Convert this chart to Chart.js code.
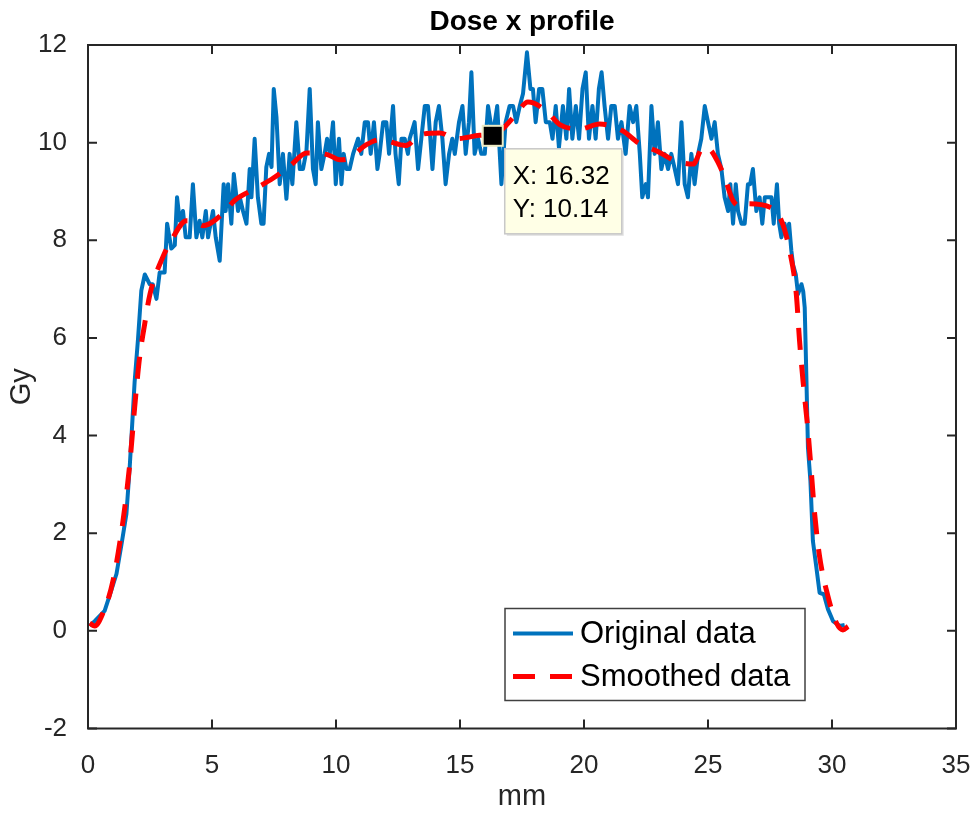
<!DOCTYPE html>
<html lang="en">
<head>
  <meta charset="UTF-8">
  <title>Dose x profile</title>
  <script src="https://cdn.jsdelivr.net/npm/chart.js"></script>
  <style>
    body { margin: 0; background: #fff; }
    #wrap { width: 974px; height: 814px; }
  </style>
</head>
<body>
  <div id="wrap"><canvas id="doseChart"></canvas></div>
  <script>
    // original measured profile (mm, Gy)
    const origX = [
      0.07, 0.27, 0.67, 0.92, 1.15, 1.36, 1.55, 1.68, 1.79, 1.88,
      2.02, 2.15, 2.29, 2.49, 2.61, 2.76, 2.89, 3.09, 3.19, 3.36,
      3.50, 3.59, 3.70, 3.83, 3.94, 4.10, 4.23, 4.37, 4.50, 4.61,
      4.75, 4.84, 5.04, 5.15, 5.31, 5.47, 5.55, 5.65, 5.78, 5.88,
      6.05, 6.12, 6.25, 6.39, 6.52, 6.59, 6.72, 6.85, 6.99, 7.08,
      7.19, 7.30, 7.40, 7.49, 7.60, 7.73, 7.86, 8.00, 8.13, 8.24,
      8.40, 8.54, 8.67, 8.81, 8.94, 9.07, 9.18, 9.27, 9.41, 9.54,
      9.64, 9.75, 9.88, 9.99, 10.12, 10.22, 10.31, 10.42, 10.55, 10.69,
      10.89, 11.02, 11.16, 11.29, 11.40, 11.53, 11.67, 11.76, 11.90, 12.03,
      12.14, 12.30, 12.40, 12.53, 12.64, 12.77, 12.90, 12.97, 13.17, 13.31,
      13.44, 13.58, 13.71, 13.89, 14.02, 14.15, 14.29, 14.42, 14.56, 14.69,
      14.79, 14.96, 15.10, 15.23, 15.36, 15.46, 15.59, 15.73, 15.86, 16.00,
      16.13, 16.32, 16.50, 16.67, 16.84, 17.00, 17.14, 17.27, 17.41, 17.54,
      17.70, 17.84, 17.94, 18.05, 18.19, 18.32, 18.46, 18.62, 18.73, 18.86,
      18.99, 19.15, 19.29, 19.40, 19.53, 19.67, 19.80, 19.94, 20.07, 20.20,
      20.34, 20.47, 20.60, 20.71, 20.83, 20.97, 21.10, 21.24, 21.37, 21.51,
      21.68, 21.84, 21.98, 22.11, 22.25, 22.35, 22.49, 22.58, 22.72, 22.85,
      22.98, 23.12, 23.25, 23.39, 23.52, 23.66, 23.79, 23.93, 24.06, 24.19,
      24.33, 24.46, 24.60, 24.73, 24.87, 25.00, 25.14, 25.27, 25.40, 25.54,
      25.67, 25.81, 25.90, 26.01, 26.12, 26.21, 26.35, 26.48, 26.61, 26.70,
      26.81, 26.95, 27.08, 27.19, 27.29, 27.42, 27.56, 27.65, 27.78, 27.87,
      27.96, 28.09, 28.17, 28.27, 28.36, 28.43, 28.54, 28.63, 28.77, 28.84,
      28.90, 28.97, 29.03, 29.13, 29.23, 29.37, 29.50, 29.67, 29.84, 30.04,
      30.31, 30.51
    ];
    const origY = [
      0.10, 0.20, 0.41, 0.80, 1.17, 1.80, 2.40, 3.34, 4.30, 5.10,
      6.00, 6.97, 7.30, 7.10, 7.10, 6.80, 7.34, 7.34, 8.34, 7.83,
      7.90, 8.88, 8.40, 8.60, 8.06, 8.06, 9.15, 8.06, 8.40, 8.06,
      8.60, 8.06, 8.60, 8.06, 7.58, 9.15, 8.60, 9.15, 8.34, 9.36,
      8.60, 8.88, 8.60, 8.34, 9.46, 8.88, 10.08, 8.88, 8.34, 8.34,
      9.50, 9.77, 9.50, 11.10, 10.52, 9.15, 9.77, 8.85, 9.77, 9.15,
      10.42, 9.46, 9.46, 9.84, 11.10, 9.46, 9.15, 10.42, 9.46, 9.77,
      10.08, 9.77, 10.42, 9.15, 10.08, 9.15, 9.77, 9.46, 9.46, 9.77,
      10.08, 9.77, 10.42, 10.42, 9.77, 10.42, 9.46, 9.77, 10.42, 10.42,
      9.77, 10.75, 9.77, 9.15, 10.08, 10.08, 9.77, 10.08, 10.42, 9.46,
      10.08, 10.75, 10.75, 9.46, 10.42, 10.75, 10.08, 9.15, 9.77, 10.08,
      9.77, 10.42, 10.75, 9.77, 10.42, 11.44, 9.77, 10.08, 9.77, 9.77,
      10.75, 10.14, 10.75, 9.15, 10.42, 10.75, 10.75, 10.42, 10.75, 11.00,
      11.85, 11.10, 11.10, 10.42, 11.10, 11.10, 10.42, 10.42, 10.08, 10.75,
      9.90, 10.75, 10.08, 11.10, 10.08, 10.75, 10.08, 11.10, 11.44, 10.08,
      10.75, 10.08, 11.10, 11.44, 10.75, 10.08, 10.75, 10.75, 10.08, 10.42,
      9.77, 10.75, 10.42, 10.75, 9.77, 8.88, 9.15, 8.88, 10.75, 9.77,
      10.42, 9.46, 9.77, 9.46, 9.77, 9.46, 9.15, 10.42, 9.15, 8.88,
      9.77, 9.15, 9.77, 10.08, 10.75, 10.42, 10.08, 10.42, 9.77, 9.46,
      8.88, 8.60, 9.15, 8.34, 9.15, 8.60, 8.34, 8.34, 9.15, 9.15,
      9.46, 8.60, 8.88, 8.34, 8.88, 8.88, 8.88, 8.34, 9.15, 8.34,
      8.06, 8.34, 8.06, 8.34, 7.79, 7.50, 7.30, 6.90, 7.10, 6.95,
      6.62, 5.12, 3.76, 3.07, 1.84, 1.30, 0.78, 0.75, 0.44, 0.20,
      0.10, 0.12
    ];

    // smoothed curve
    const smoothX = [
      0.07, 0.27, 0.59, 1.01, 1.41, 1.68, 1.88, 2.08, 2.29, 2.50,
      3.02, 3.36, 3.97, 4.23, 4.64, 5.44, 5.92, 6.79, 7.46, 8.20,
      8.81, 9.68, 10.15, 10.42, 11.23, 11.76, 12.03, 12.81, 13.38, 14.18,
      14.85, 15.79, 16.50, 17.21, 17.74, 18.48, 19.02, 19.83, 20.63, 21.57,
      22.18, 23.05, 23.66, 24.40, 24.80, 25.10, 25.40, 25.67, 26.00, 26.40,
      26.67, 27.48, 27.96, 28.29, 28.56, 28.69, 28.83, 29.03, 29.17, 29.30,
      29.50, 29.84, 30.18, 30.44, 30.65
    ];
    const smoothY = [
      0.16, 0.10, 0.35, 1.03, 2.25, 3.40, 4.57, 5.60, 6.30, 6.90,
      7.66, 8.00, 8.40, 8.40, 8.30, 8.55, 8.82, 9.07, 9.27, 9.55,
      9.79, 9.75, 9.65, 9.66, 9.96, 10.06, 10.04, 9.94, 10.16, 10.20,
      10.08, 10.15, 10.20, 10.55, 10.83, 10.65, 10.37, 10.28, 10.38, 10.24,
      10.00, 9.80, 9.63, 9.56, 9.90, 9.85, 9.60, 9.29, 8.82, 8.68,
      8.75, 8.68, 8.40, 7.79, 6.90, 5.95, 5.13, 4.10, 3.23, 2.40,
      1.52, 0.70, 0.16, 0.02, 0.09
    ];

    // data tip
    const tipX = 16.32;
    const tipY = 10.14;

    const axisColor = '#262626';
    const fontFamily = '"Liberation Sans", Arial, Helvetica, sans-serif';

    // frame with inward ticks, legend box and data tip (matlab look)
    const matlabAxes = {
      id: 'matlabAxes',
      afterDatasetsDraw(chart) {
        const { ctx, chartArea: a, scales: { x, y } } = chart;
        ctx.save();

        // frame + ticks
        ctx.strokeStyle = axisColor;
        ctx.lineWidth = 2;
        ctx.strokeRect(a.left, a.top, a.right - a.left, a.bottom - a.top);
        ctx.beginPath();
        x.ticks.forEach(t => {
          const px = x.getPixelForValue(t.value);
          ctx.moveTo(px, a.bottom); ctx.lineTo(px, a.bottom - 9);
          ctx.moveTo(px, a.top); ctx.lineTo(px, a.top + 9);
        });
        y.ticks.forEach(t => {
          const py = y.getPixelForValue(t.value);
          ctx.moveTo(a.left, py); ctx.lineTo(a.left + 9, py);
          ctx.moveTo(a.right, py); ctx.lineTo(a.right - 9, py);
        });
        ctx.stroke();

        // legend
        const bw = 300, bh = 92;
        const bx = a.right - 151 - bw, by = a.bottom - 28 - bh;
        ctx.fillStyle = '#fff';
        ctx.fillRect(bx, by, bw, bh);
        ctx.strokeStyle = '#404040';
        ctx.lineWidth = 1.5;
        ctx.strokeRect(bx, by, bw, bh);
        ctx.font = '31px ' + fontFamily;
        ctx.textBaseline = 'middle';
        ctx.textAlign = 'left';
        const rows = [chart.data.datasets[1], chart.data.datasets[0]];
        rows.forEach((ds, i) => {
          const ly = by + 25 + i * 43;
          ctx.beginPath();
          ctx.strokeStyle = ds.borderColor;
          ctx.lineWidth = ds.borderWidth;
          ctx.setLineDash(ds.borderDash || []);
          ctx.moveTo(bx + 8, ly);
          ctx.lineTo(bx + 68, ly);
          ctx.stroke();
          ctx.setLineDash([]);
          ctx.fillStyle = '#000';
          ctx.fillText(ds.label, bx + 75, ly + 1);
        });

        // data tip marker and box
        const mx = x.getPixelForValue(tipX), my = y.getPixelForValue(tipY);
        ctx.fillStyle = '#ecebc4';
        ctx.fillRect(mx - 11, my - 11, 22, 22);
        ctx.fillStyle = '#000';
        ctx.fillRect(mx - 9, my - 9, 18, 18);

        const tx = mx + 12, ty = my + 13, tw = 117, th = 85;
        ctx.fillStyle = 'rgba(0,0,0,0.12)';
        ctx.fillRect(tx + 2, ty + 2, tw, th);
        ctx.fillStyle = '#ffffe6';
        ctx.fillRect(tx, ty, tw, th);
        ctx.strokeStyle = '#c8c8c8';
        ctx.lineWidth = 1.5;
        ctx.strokeRect(tx, ty, tw, th);
        ctx.fillStyle = '#000';
        ctx.font = '26px ' + fontFamily;
        ctx.textBaseline = 'alphabetic';
        ctx.fillText('X: ' + tipX.toFixed(2), tx + 8, ty + 35);
        ctx.fillText('Y: ' + tipY.toFixed(2), tx + 8, ty + 68);

        ctx.restore();
      }
    };

    const ctx = document.getElementById('doseChart').getContext('2d');
    new Chart(ctx, {
      type: 'scatter',
      data: {
        datasets: [
          {
            label: 'Smoothed data',
            data: smoothX.map((v, i) => ({ x: v, y: smoothY[i] })),
            showLine: true,
            borderColor: '#ff0000',
            borderWidth: 5,
            borderDash: [22, 15],
            borderCapStyle: 'butt',
            cubicInterpolationMode: 'monotone',
            pointRadius: 0,
            order: 1
          },
          {
            label: 'Original data',
            data: origX.map((v, i) => ({ x: v, y: origY[i] })),
            showLine: true,
            borderColor: '#0072bd',
            borderWidth: 4,
            borderJoinStyle: 'round',
            tension: 0,
            pointRadius: 0,
            order: 2
          }
        ]
      },
      options: {
        responsive: true,
        maintainAspectRatio: false,
        animation: false,
        layout: { padding: { left: 0, right: 18, top: 0, bottom: 0 } },
        plugins: {
          legend: { display: false },
          tooltip: { enabled: false },
          title: {
            display: true,
            fullSize: false,
            text: 'Dose x profile',
            color: '#000',
            font: { family: fontFamily, size: 28, weight: 'bold' },
            padding: { top: 5.5, bottom: 5.9 }
          }
        },
        scales: {
          x: {
            type: 'linear',
            min: 0,
            max: 35,
            grid: { display: false },
            border: { display: false },
            ticks: { stepSize: 5, padding: 14, color: axisColor, font: { family: fontFamily, size: 26 } },
            title: { display: true, text: 'mm', color: axisColor, font: { family: fontFamily, size: 29 }, padding: { top: 0, bottom: 0 } },
            afterFit: s => { s.height = 85.5; s.paddingLeft = 0; s.paddingRight = 0; }
          },
          y: {
            min: -2,
            max: 12,
            grid: { display: false },
            border: { display: false },
            ticks: { stepSize: 2, padding: 13, color: axisColor, font: { family: fontFamily, size: 26 } },
            title: { display: true, text: 'Gy', color: axisColor, font: { family: fontFamily, size: 29 }, padding: { top: 5, bottom: 0 } },
            afterFit: s => { s.width = 88; s.paddingTop = 0; s.paddingBottom = 0; }
          }
        }
      },
      plugins: [matlabAxes]
    });
  </script>
</body>
</html>
